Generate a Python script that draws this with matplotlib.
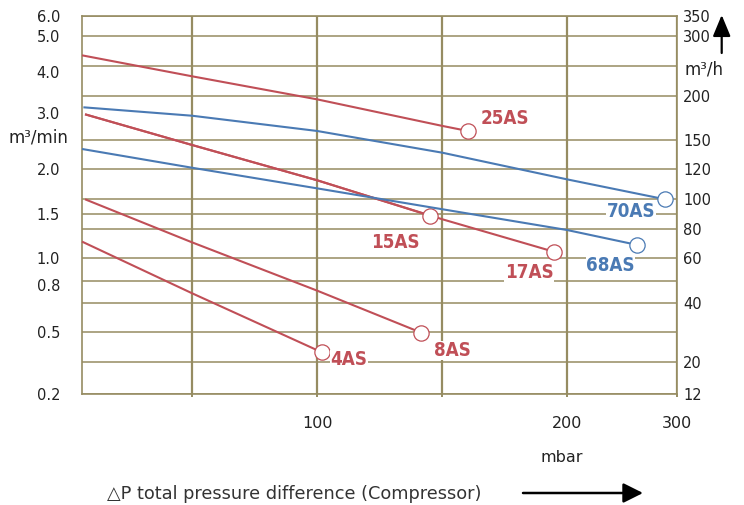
import numpy as np
import matplotlib
matplotlib.use("Agg")
import matplotlib.pyplot as plt
from matplotlib.ticker import FixedLocator, FixedFormatter, NullFormatter
from matplotlib import font_manager

# ---------------- data (x in mbar, y in m3/h) ----------------
names = ["25AS", "17AS", "15AS", "8AS", "4AS", "70AS", "68AS"]
x_25as = [10, 50, 100, 150, 160.2]
y_25as = [267.8, 232.7, 195.9, 165.9, 160.2]
x_17as = [11.1, 50, 100, 150, 194.8]
y_17as = [179.0, 144.9, 112.7, 86.3, 64.1]
x_15as = [11.1, 50, 100, 145.1]
y_15as = [179.0, 144.9, 112.7, 88.7]
x_8as = [11.1, 50, 100, 141.5]
y_8as = [100.0, 70.6, 45.5, 29.8]
x_4as = [10, 50, 100, 102]
y_4as = [71.1, 44.3, 23.9, 23.1]
x_70as = [10.5, 50, 100, 150, 200, 288.8]
y_70as = [186.9, 177.4, 160.2, 137.0, 113.3, 100.0]
x_68as = [10, 50, 100, 150, 200, 263.7]
y_68as = [140.8, 121.6, 107.3, 93.1, 79.1, 68.8]

x_tick_vals = [100, 200, 300]
x_tick_labels = ["100", "200", "300"]
x_minor_grid = [50, 150]
y_grid_vals = [12, 20, 30, 40, 50, 60, 80, 90, 100, 120, 150, 200, 250, 300, 350]
right_tick_vals = [12, 20, 40, 60, 80, 100, 120, 150, 200, 300, 350]
left_tick_vals_min = [0.2, 0.5, 0.8, 1.0, 1.5, 2.0, 3.0, 4.0, 5.0, 6.0]  # m3/min
left_tick_labels = ["0.2", "0.5", "0.8", "1.0", "1.5", "2.0", "3.0", "4.0", "5.0", "6.0"]

# ---------------- scale shape of the printed chart ----------------
X_SCALE_VALS = [10, 50, 100, 150, 200, 300]
X_SCALE_FRAC = [0, 0.1848, 0.3948, 0.6052, 0.8147, 1.0]
Y_SCALE_FRAC = [0, 0.0861, 0.1646, 0.2419, 0.3001, 0.3608, 0.4374, 0.4770,
                0.5151, 0.5943, 0.6717, 0.7887, 0.8671, 0.9464, 1.0]


def make_pw(xp, fp):
    xp = np.asarray(xp, float)
    fp = np.asarray(fp, float)
    s0 = (fp[1] - fp[0]) / (xp[1] - xp[0])
    s1 = (fp[-1] - fp[-2]) / (xp[-1] - xp[-2])

    def f(v):
        v = np.asarray(v, float)
        out = np.interp(v, xp, fp)
        out = np.where(v < xp[0], fp[0] + (v - xp[0]) * s0, out)
        out = np.where(v > xp[-1], fp[-1] + (v - xp[-1]) * s1, out)
        return out
    return f


x_fwd = make_pw(X_SCALE_VALS, X_SCALE_FRAC)
x_inv = make_pw(X_SCALE_FRAC, X_SCALE_VALS)
y_fwd = make_pw(y_grid_vals, Y_SCALE_FRAC)
y_inv = make_pw(Y_SCALE_FRAC, y_grid_vals)

# ---------------- styles ----------------
RED = "#c04f57"
BLUE = "#4a7ab4"
OLIVE = "#968c62"
TXT = "#222222"

avail = {f.name for f in font_manager.fontManager.ttflist}
if "Liberation Sans Narrow" in avail:
    LBL_FONT = dict(family="Liberation Sans Narrow", weight="bold", size=15.5)
else:
    LBL_FONT = dict(family="DejaVu Sans", stretch="condensed", weight="bold", size=13.5)

W, H = 744, 505
fig = plt.figure(figsize=(W / 100, H / 100), dpi=100)
ax = fig.add_axes([82 / W, (H - 394.3) / H, 595.3 / W, 378.6 / H])
ax.set_xscale("function", functions=(x_fwd, x_inv))
ax.set_yscale("function", functions=(y_fwd, y_inv))
ax.set_xlim(10, 300)
ax.set_ylim(12, 350)
ax.set_axisbelow(True)

# vertical grid
ax.xaxis.set_major_locator(FixedLocator(x_tick_vals))
ax.xaxis.set_major_formatter(FixedFormatter(x_tick_labels))
ax.xaxis.set_minor_locator(FixedLocator(x_minor_grid))
ax.xaxis.set_minor_formatter(NullFormatter())
ax.grid(which="both", axis="x", color=OLIVE, lw=1.6, zorder=0.5)
# horizontal grid
for gv in y_grid_vals:
    ax.axhline(gv, color=OLIVE, lw=1.1, zorder=0.6)

left_pos = np.minimum(np.array(left_tick_vals_min) * 60.0, 350)
ax.yaxis.set_major_locator(FixedLocator(left_pos))
ax.yaxis.set_major_formatter(FixedFormatter(left_tick_labels))
ax.yaxis.set_minor_locator(FixedLocator([]))
ax.tick_params(axis="y", which="both", length=0, pad=15.8, labelsize=10.5, labelcolor=TXT)
ax.tick_params(axis="x", which="both", length=2.2, width=1.4, color=OLIVE, pad=13.3,
               labelsize=11.5, labelcolor=TXT)
for s in ax.spines.values():
    s.set_color(OLIVE)
    s.set_linewidth(1.2)

ax2 = ax.twinx()
ax2.set_yscale("function", functions=(y_fwd, y_inv))
ax2.set_ylim(12, 350)
ax2.yaxis.set_major_locator(FixedLocator(right_tick_vals))
ax2.yaxis.set_major_formatter(FixedFormatter([str(v) for v in right_tick_vals]))
ax2.yaxis.set_minor_locator(FixedLocator([]))
ax2.tick_params(axis="y", which="both", length=0, pad=4.3, labelsize=10.5, labelcolor=TXT)
for s in ax2.spines.values():
    s.set_visible(False)

series = [
    ("25AS", x_25as, y_25as, RED, (37, 12)),
    ("17AS", x_17as, y_17as, RED, (-25, -21)),
    ("15AS", x_15as, y_15as, RED, (-35, -27)),
    ("8AS", x_8as, y_8as, RED, (31, -18)),
    ("4AS", x_4as, y_4as, RED, (27, -7.5)),
    ("70AS", x_70as, y_70as, BLUE, (-34, -12)),
    ("68AS", x_68as, y_68as, BLUE, (-27, -21)),
]
for name, xs, ys, col, off in series:
    ax.plot(xs, ys, color=col, lw=1.5, solid_capstyle="butt", zorder=3,
            marker="o", markevery=[len(xs) - 1], markersize=11,
            markerfacecolor="white", markeredgecolor=col, markeredgewidth=0.9,
            clip_on=False)
    ax.annotate(name, xy=(xs[-1], ys[-1]), xytext=off, textcoords="offset pixels",
                ha="center", va="center", color=col, zorder=4,
                bbox=dict(boxstyle="square,pad=0.02", fc="white", ec="none"),
                **LBL_FONT)

# axis titles
ax.set_ylabel("m³/min", rotation=0, fontsize=12, color=TXT, ha="center", va="center")
ax.yaxis.set_label_coords((38 - 82) / 595.3, (394.3 - 137) / 378.6)
ax2.set_ylabel("m³/h", rotation=0, fontsize=12, color=TXT, ha="center", va="center")
ax2.yaxis.set_label_coords((704 - 82) / 595.3, (394.3 - 70) / 378.6)
ax.set_xlabel("mbar", fontsize=11.5, color=TXT, ha="center", va="center")
ax.xaxis.set_label_coords((562 - 82) / 595.3, (394.3 - 458) / 378.6)

ax.text((107 - 82) / 595.3, (394.3 - 494) / 378.6,
        "△P total pressure difference (Compressor)", transform=ax.transAxes,
        ha="left", va="center", fontsize=12.8, color="#333333")

# arrows
ax.annotate("", xy=((643 - 82) / 595.3, (394.3 - 493) / 378.6),
            xytext=((523 - 82) / 595.3, (394.3 - 493) / 378.6),
            xycoords="axes fraction", textcoords="axes fraction",
            arrowprops=dict(arrowstyle="-|>,head_length=0.6,head_width=0.3",
                            mutation_scale=20, color="black", lw=1.8,
                            shrinkA=0, shrinkB=0))
ax.annotate("", xy=((721.7 - 82) / 595.3, (394.3 - 15) / 378.6),
            xytext=((721.7 - 82) / 595.3, (394.3 - 53) / 378.6),
            xycoords="axes fraction", textcoords="axes fraction",
            arrowprops=dict(arrowstyle="-|>,head_length=0.65,head_width=0.27",
                            mutation_scale=20, color="black", lw=1.6,
                            shrinkA=0, shrinkB=0))

fig.savefig("out.png", dpi=100)
